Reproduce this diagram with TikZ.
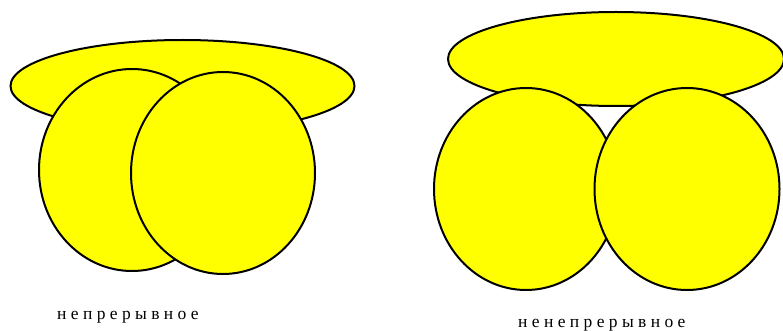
\documentclass[tikz,border=0pt]{standalone}
\usepackage{fontspec}
\setmainfont{Liberation Serif}
\usetikzlibrary{positioning}
\definecolor{puryellow}{RGB}{255,255,0}

\begin{document}
\begin{tikzpicture}[
			x=1pt,y=-1pt,
			blob/.style={
				draw=black,
				fill=puryellow,
				line width=2pt
			},
			caption/.style={
				font=\fontsize{17.5}{19}\selectfont,
				inner sep=0pt,
				anchor=base west
			}
			]
			
			\useasboundingbox (0,0) rectangle (783,331);
			
			% left picture
			\draw[blob] (182.5,86) ellipse [x radius=172, y radius=46];
			\draw[blob] (132,170) ellipse [x radius=93, y radius=101];
			\draw[blob] (223,173) ellipse [x radius=92, y radius=101];
			
			\node[caption] (cont) at (57,319) {н е п р е р ы в н о е};
			
			% right picture
			\draw[blob] (616,59) ellipse [x radius=168, y radius=47];
			\draw[blob] (526,189) ellipse [x radius=92, y radius=101];
			\draw[blob] (687,189) ellipse [x radius=92.5, y radius=101];
			
			\node[caption] (discont) at (518,327) {н е н е п р е р ы в н о е};
			
		\end{tikzpicture}
\end{document}
